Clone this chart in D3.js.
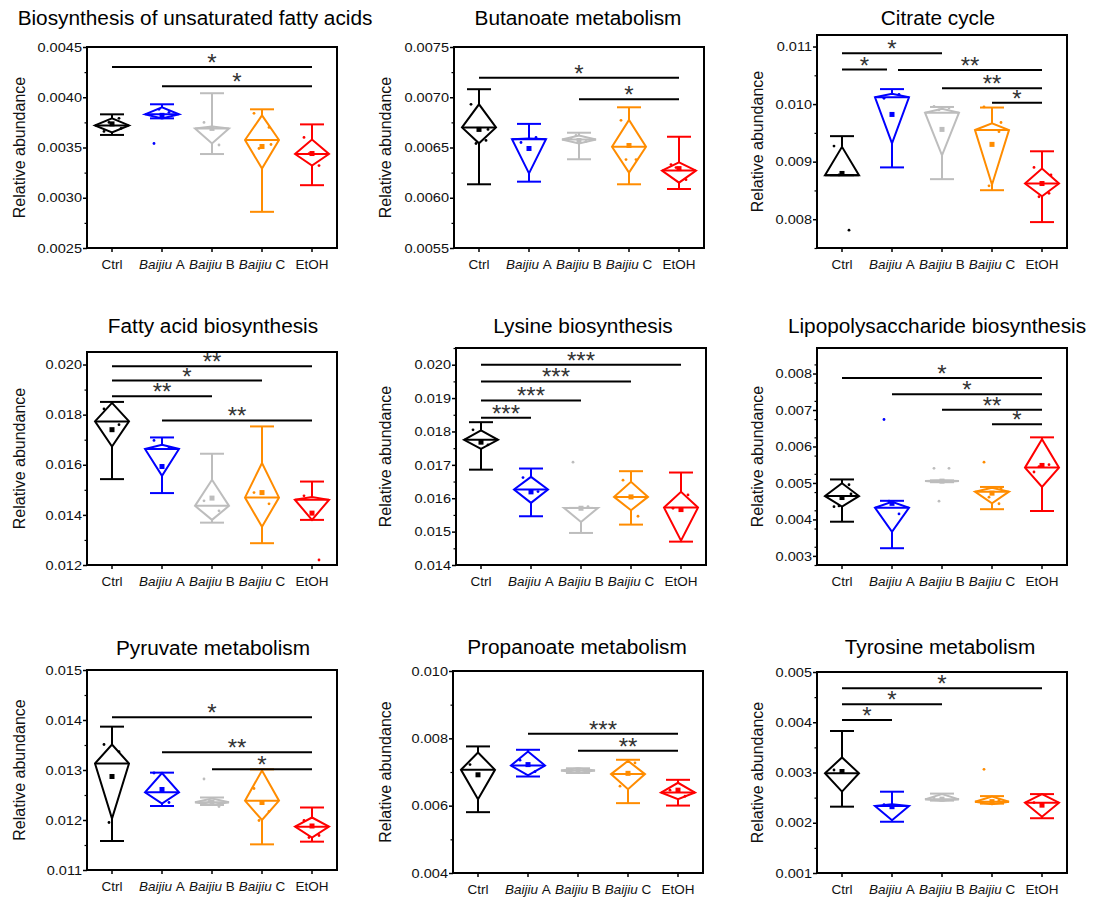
<!DOCTYPE html>
<html><head><meta charset="utf-8">
<script src="https://cdn.jsdelivr.net/npm/d3@7"></script>
<style>body{margin:0;background:#fff} text{font-family:"Liberation Sans",Arial,sans-serif}</style>
</head><body><svg id="c" width="1094" height="899"></svg>
<script>
const categories = ["Ctrl", "Baijiu A", "Baijiu B", "Baijiu C", "EtOH"];
const colors = ["#000000", "#0000ff", "#bdbdbd", "#ff8c00", "#ff0000"];
const titles = ["Biosynthesis of unsaturated fatty acids", "Butanoate metabolism", "Citrate cycle",
  "Fatty acid biosynthesis", "Lysine biosynthesis", "Lipopolysaccharide biosynthesis",
  "Pyruvate metabolism", "Propanoate metabolism", "Tyrosine metabolism"];
const yDomains = [[0.0025,0.0045],[0.0055,0.0075],[0.0075,0.0112],[0.012,0.0205],[0.014,0.0205],[0.00275,0.0087],[0.011,0.015],[0.004,0.010],[0.001,0.005]];
const yTicks = [
  [0.0025,0.0030,0.0035,0.0040,0.0045],
  [0.0055,0.0060,0.0065,0.0070,0.0075],
  [0.008,0.009,0.010,0.011],
  [0.012,0.014,0.016,0.018,0.020],
  [0.014,0.015,0.016,0.017,0.018,0.019,0.020],
  [0.003,0.004,0.005,0.006,0.007,0.008],
  [0.011,0.012,0.013,0.014,0.015],
  [0.004,0.006,0.008,0.010],
  [0.001,0.002,0.003,0.004,0.005]];
const tickFormats = [".4f",".4f",".3f",".3f",".3f",".3f",".3f",".3f",".3f"];

// per panel, per group [Ctrl, A, B, C, EtOH]
const maxVals = [
  [0.00383,0.00393,0.00404,0.00388,0.00373],
  [0.00708,0.006735,0.006647,0.0069,0.006607],
  [0.009443,0.01026,0.00995,0.00994,0.00918],
  [0.018508,0.01709,0.01644,0.01753,0.01533],
  [0.018278,0.01689,0.01571,0.01681,0.01677],
  [0.005096,0.00451,0.00507,0.00489,0.00625],
  [0.013867,0.012947,0.01245,0.013013,0.01225],
  [0.00776,0.00766,0.00711,0.007363,0.006768],
  [0.003826,0.002618,0.00258,0.00253,0.00257]];
const upperVals = [
  [0.00379,0.00390,0.00371,0.00382,0.00358],
  [0.00693,0.00659,0.00662,0.006774,0.006353],
  [0.009257,0.01018,0.00992,0.009664,0.00888],
  [0.01847,0.0168,0.0154,0.01607,0.01471],
  [0.01803,0.01664,0.01571,0.01649,0.01619],
  [0.00499,0.00448,0.00507,0.00487,0.0062],
  [0.01351,0.01294,0.01243,0.01299,0.01205],
  [0.00758,0.00761,0.00711,0.00733,0.00668],
  [0.0033,0.00237,0.00257,0.00252,0.00257]];
const medianVals = [
  [0.00372,0.00383,0.00369,0.003575,0.003435],
  [0.0067,0.006582,0.00658,0.006508,0.00627],
  [0.008765,0.010117,0.00985,0.00955,0.00862],
  [0.01773,0.01663,0.01436,0.01469,0.0146],
  [0.01775,0.01626,0.01571,0.01604,0.01572],
  [0.00464,0.00432,0.00505,0.00476,0.00542],
  [0.01313,0.012553,0.012353,0.012387,0.011867],
  [0.007065,0.007193,0.007045,0.006937,0.00639],
  [0.002984,0.002333,0.002466,0.002419,0.0024]];
const lowerVals = [
  [0.00365,0.00379,0.00354,0.00329,0.00332],
  [0.006542,0.006243,0.00654,0.00625,0.00615],
  [0.008765,0.009316,0.00911,0.0086,0.0084],
  [0.01673,0.01556,0.0138,0.01353,0.0138],
  [0.01748,0.01586,0.01529,0.01564,0.01473],
  [0.00435,0.00366,0.00502,0.00444,0.00489],
  [0.01203,0.01233,0.0123,0.012,0.01165],
  [0.006193,0.0069,0.00697,0.00649,0.00619],
  [0.00262,0.00205,0.00244,0.00237,0.00212]];
const minVals = [
  [0.003625,0.00379,0.003435,0.00286,0.003125],
  [0.006134,0.00616,0.006383,0.006134,0.006087],
  [0.008765,0.0089,0.008696,0.008504,0.00795],
  [0.015427,0.01487,0.01369,0.01287,0.0138],
  [0.016856,0.01546,0.01496,0.01521,0.0147],
  [0.003937,0.00321,0.00502,0.00428,0.00423],
  [0.01158,0.01228,0.0123,0.011513,0.011567],
  [0.005807,0.006866,0.00697,0.006075,0.006003],
  [0.00232,0.00202,0.00244,0.00238,0.00209]];
const meanVals = [
  [0.003735,0.00382,0.00369,0.00351,0.00344],
  [0.00668,0.00649,0.00657,0.00652,0.00629],
  [0.008795,0.00982,0.00956,0.0093,0.00862],
  [0.0174,0.01593,0.01467,0.01489,0.01407],
  [0.01768,0.01619,0.0157,0.01604,0.01566],
  [0.0046,0.00444,0.00505,0.00472,0.00548],
  [0.01287,0.01261,0.01235,0.01235,0.01188],
  [0.006917,0.00722,0.00705,0.00696,0.00646],
  [0.00302,0.00232,0.00247,0.00242,0.00235]];
const pointVals = [
  [[0.00366,0.00379,0.00375,0.00369],[0.00354,0.00385,0.00388],[0.00375,0.003525,0.00370],[0.00384,0.00370,0.00349,0.00353],[0.00360,0.00332,0.00344]],
  [[0.00693,0.00657,0.00654,0.00668],[0.00655,0.00660],[0.00659,0.00656,0.00662],[0.00677,0.00638,0.00638],[0.00633,0.00618,0.00630]],
  [[0.00927,0.00781,0.00877],[0.0101,0.01017],[0.00996,0.00993,0.00990],[0.00995,0.00952,0.00858,0.00968],[0.0089,0.00845,0.00839,0.00877]],
  [[0.01823,0.01760],[0.01697,0.01667],[0.01456,0.01416],[0.01489,0.01444],[0.01476,0.0122]],
  [[0.01805,0.01760],[0.01662,0.01620],[0.01708,0.01575],[0.01654,0.01546],[0.01570,0.01610]],
  [[0.00435,0.00495,0.00437,0.00470],[0.00674,0.00415,0.00450],[0.0054,0.0054,0.0045],[0.00557,0.00443,0.00461,0.00485],[0.0053,0.00550,0.00545]],
  [[0.01351,0.013367,0.01195],[0.01294,0.01235],[0.01282,0.01227,0.01237],[0.01263,0.01217,0.01199],[0.01199,0.01169,0.01165]],
  [[0.00722],[0.00735,0.00701],[0.00706,0.00703],[0.00658,0.00727],[0.00646,0.00628]],
  [[0.00305],[0.00236],[0.00250],[0.003064,0.00245],[0.00240]]];
// significance brackets: [from index, to index, y value, label]
const brackets = [
  [[0,4,0.0043,"*"],[1,4,0.00411,"*"]],
  [[0,4,0.007195,"*"],[2,4,0.00698,"*"]],
  [[0,2,0.010882,"*"],[0,0.9,0.0106,"*"],[1.12,4,0.01059,"**"],[2,4,0.010273,"**"],[3,4,0.010023,"*"]],
  [[0,4,0.01993,"**"],[0,3,0.01936,"*"],[0,2,0.01873,"**"],[1,4,0.01777,"**"]],
  [[0,4,0.0200,"***"],[0,3,0.0195,"***"],[0,2,0.01893,"***"],[0,1,0.01841,"***"]],
  [[0,4,0.00788,"*"],[1,4,0.00743,"*"],[2,4,0.00701,"**"],[3,4,0.00661,"*"]],
  [[0,4,0.014053,"*"],[1,4,0.013353,"**"],[2,4,0.013013,"*"]],
  [[1,4,0.008137,"***"],[2,4,0.00763,"**"]],
  [[0,4,0.004676,"*"],[0,2,0.004357,"*"],[0,1,0.004045,"*"]]];

// layout (pixels)
const layout = [
  {left:87, top:47, bottom:248, titleX:195, titleY:25, ylabX:19},
  {left:454, top:47, bottom:248, titleX:578, titleY:25, ylabX:385},
  {left:817, top:35, bottom:248, titleX:938, titleY:25, ylabX:757},
  {left:87, top:352, bottom:565, titleX:213, titleY:333, ylabX:19},
  {left:456, top:348, bottom:565, titleX:583, titleY:333, ylabX:385},
  {left:817, top:348, bottom:565, titleX:937, titleY:333, ylabX:757},
  {left:87, top:670, bottom:870, titleX:213, titleY:655, ylabX:19},
  {left:453, top:671, bottom:873, titleX:577, titleY:654, ylabX:385},
  {left:817, top:672, bottom:873, titleX:940, titleY:654, ylabX:757}];
const W = 250, HW = 17, CAP = 12, SX = 1.12;
const jitter = [-8, 7, -3, 9, -6, 4];

const svg = d3.select("#c");
layout.forEach((L, p) => {
  const g = svg.append("g");
  const x = d3.scalePoint().domain(d3.range(5)).range([L.left, L.left + W]).padding(0.5);
  const step = x.step();
  const xp = v => L.left + step * 0.5 + v * step;
  const y = d3.scaleLinear().domain(yDomains[p]).range([L.bottom, L.top]);

  // minor ticks
  const t = yTicks[p];
  const minor = [];
  const d = t[1] - t[0];
  for (let v = yDomains[p][0]; v <= yDomains[p][1] + 1e-9; v += d / 2) {
    if (!t.some(tt => Math.abs(tt - v) < d * 0.01)) minor.push(v);
  }
  const ax = g.append("g").attr("transform", `translate(${L.left},0)`)
    .call(d3.axisLeft(y).tickValues(t).tickSize(4).tickPadding(1).tickFormat(d3.format(tickFormats[p])));
  ax.select(".domain").remove();
  ax.selectAll("line").attr("stroke", "#000").attr("stroke-width", 1.5);
  ax.selectAll("text").attr("font-size", 13).attr("fill", "#111")
    .attr("x", -5 / SX).attr("transform", `scale(${SX},1)`)
    .style("font-family", '"Liberation Sans",Arial,sans-serif');
  const axm = g.append("g").attr("transform", `translate(${L.left},0)`)
    .call(d3.axisLeft(y).tickValues(minor).tickSize(2.5).tickFormat(""));
  axm.select(".domain").remove();
  axm.selectAll("line").attr("stroke", "#000").attr("stroke-width", 1.2);

  // x ticks & labels
  g.selectAll(".xt").data(d3.range(5)).join("line")
    .attr("x1", i => x(i)).attr("x2", i => x(i))
    .attr("y1", L.bottom).attr("y2", L.bottom + 4)
    .attr("stroke", "#000").attr("stroke-width", 1.5);
  const xl = g.selectAll(".xl").data(categories).join("g")
    .attr("transform", (c, i) => `translate(${x(i)},${L.bottom + 21}) scale(1.08,1)`)
    .append("text").attr("text-anchor", "middle").attr("font-size", 12.5).attr("fill", "#111");
  xl.each(function(c) {
    const el = d3.select(this);
    if (c.startsWith("Baijiu")) {
      el.append("tspan").attr("font-style", "italic").text("Baijiu");
      el.append("tspan").text("\u00a0" + c.slice(7));
    } else el.text(c);
  });

  // frame
  g.append("rect").attr("x", L.left).attr("y", L.top).attr("width", W).attr("height", L.bottom - L.top)
    .attr("fill", "none").attr("stroke", "#000").attr("stroke-width", 2);

  // title
  g.append("text").attr("transform", `translate(${L.titleX},${L.titleY}) scale(1.04,1)`)
    .attr("text-anchor", "middle").attr("font-size", 20).attr("fill", "#000").text(titles[p]);
  // y label
  g.append("text").attr("transform", `translate(${L.ylabX},${(L.top + L.bottom) / 2}) rotate(-90)`)
    .attr("text-anchor", "middle").attr("dominant-baseline", "central")
    .attr("font-size", 16).attr("fill", "#111").text("Relative abundance");

  // boxes
  categories.forEach((c, i) => {
    const cx = x(i), col = colors[i];
    const gg = g.append("g").attr("stroke", col).attr("stroke-width", 2).attr("fill", "none")
      .attr("stroke-linejoin", "miter");
    const md = y(medianVals[p][i]), up = y(upperVals[p][i]), lo = y(lowerVals[p][i]);
    const mx = y(maxVals[p][i]), mn = y(minVals[p][i]);
    gg.append("line").attr("x1", cx).attr("x2", cx).attr("y1", up).attr("y2", mx);
    gg.append("line").attr("x1", cx).attr("x2", cx).attr("y1", lo).attr("y2", mn);
    gg.append("line").attr("x1", cx - CAP).attr("x2", cx + CAP).attr("y1", mx).attr("y2", mx);
    gg.append("line").attr("x1", cx - CAP).attr("x2", cx + CAP).attr("y1", mn).attr("y2", mn);
    gg.append("path").attr("d", `M${cx - HW},${md}L${cx},${up}L${cx + HW},${md}L${cx},${lo}Z`);
    gg.append("line").attr("x1", cx - HW).attr("x2", cx + HW).attr("y1", md).attr("y2", md);
    g.append("rect").attr("x", cx - 2.5).attr("y", y(meanVals[p][i]) - 2.5).attr("width", 5).attr("height", 5).attr("fill", col);
    g.selectAll(null).data(pointVals[p][i]).join("circle")
      .attr("cx", (v, k) => cx + jitter[k % jitter.length]).attr("cy", v => y(v))
      .attr("r", 1.4).attr("fill", col);
  });

  // brackets
  brackets[p].forEach(b => {
    const x1 = xp(b[0]), x2 = xp(b[1]), yy = y(b[2]);
    g.append("line").attr("x1", x1).attr("x2", x2).attr("y1", yy).attr("y2", yy)
      .attr("stroke", "#000").attr("stroke-width", 2);
    g.append("text").attr("x", (x1 + x2) / 2).attr("y", yy + 4).attr("text-anchor", "middle")
      .attr("font-size", 24).attr("fill", "#333").text(b[3]);
  });
});
</script></body></html>
